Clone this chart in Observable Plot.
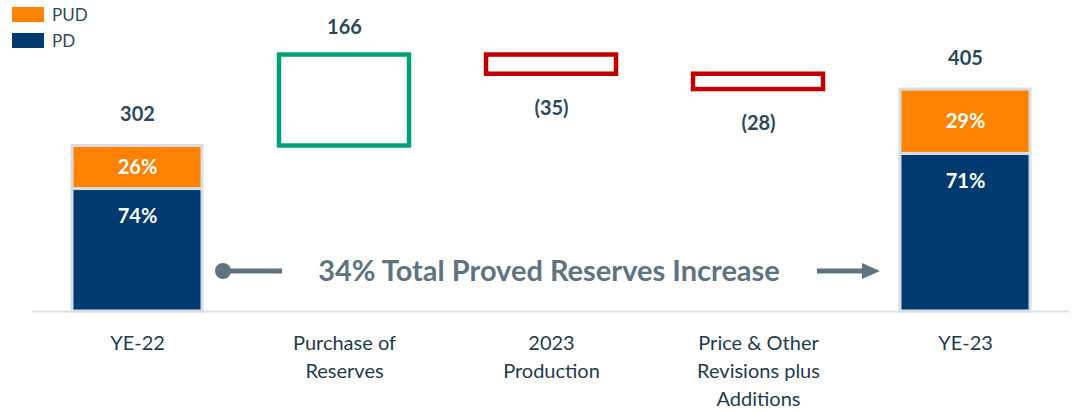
<!DOCTYPE html>
<html><head><meta charset="utf-8">
<script src="https://cdn.jsdelivr.net/npm/d3@7"></script>
<script src="https://cdn.jsdelivr.net/npm/@observablehq/plot@0.6"></script>
<style>
body{margin:0;background:#fff;font-family:Lato,"Open Sans",sans-serif}
#wrap{position:relative;width:1083px;height:412px}
.lg{position:absolute;left:12px;display:flex;align-items:center;font-size:17px;color:#2d4c5c;font-family:Lato,sans-serif}
.sw{width:32px;height:14.5px;margin-right:8px}
</style>
</head><body>
<div id="wrap"></div>
<script>
// ---- data ----
const categories = ["YE-22", "Purchase of Reserves", "2023 Production", "Price & Other Revisions plus Additions", "YE-23"];
const axisLabels = ["YE-22", "Purchase of\nReserves", "2023\nProduction", "Price & Other\nRevisions plus\nAdditions", "YE-23"];
const totalCats = ["YE-22", "YE-23"];
const totals = [302, 405];
const changeCats = ["Purchase of Reserves", "2023 Production", "Price & Other Revisions plus Additions"];
const changes = [166, -35, -28];
const changeLabels = ["166", "(35)", "(28)"];
const series = ["PUD", "PD"];
const seriesColors = ["#ff8200", "#003a70"];
const pdShare = [74, 71];
const pudShare = [26, 29];
const annotationText = "34% Total Proved Reserves Increase";
const annotationY = 73;

// ---- derived tables ----
const stack = [];
totalCats.forEach((c, i) => {
  const pd = totals[i] * pdShare[i] / 100;
  stack.push({cat: c, series: "PD", y1: 0, y2: pd, label: pdShare[i] + "%"});
  stack.push({cat: c, series: "PUD", y1: pd, y2: totals[i], label: pudShare[i] + "%"});
});
const totalRows = totalCats.map((c, i) => ({cat: c, value: totals[i], label: String(totals[i])}));
let running = totals[0];
const steps = changeCats.map((c, j) => {
  const start = running, end = running + changes[j];
  running = end;
  return {cat: c, lo: Math.min(start, end), hi: Math.max(start, end), up: changes[j] > 0, label: changeLabels[j]};
});
const ups = steps.filter(d => d.up), downs = steps.filter(d => !d.up);

const textColor = "#2b4a5c";

function annotationMark(index, scales) {
  const x = scales.x;
  const bw = typeof x.bandwidth === "function" ? x.bandwidth() : x.bandwidth;
  const y = scales.y(annotationY);
  const g = d3.create("svg:g").attr("fill", "#5f7480").attr("stroke", "#5f7480");
  const lx = x(categories[0]) + bw + 21;
  g.append("circle").attr("cx", lx).attr("cy", y).attr("r", 8).attr("stroke", "none");
  g.append("line").attr("x1", lx).attr("x2", x(categories[1]) + 3).attr("y1", y).attr("y2", y).attr("stroke-width", 5);
  const rx = x(categories[4]);
  g.append("line").attr("x1", rx - 83).attr("x2", rx - 36).attr("y1", y).attr("y2", y).attr("stroke-width", 5);
  g.append("path").attr("d", `M${rx - 38},${y - 8}L${rx - 20},${y}L${rx - 38},${y + 8}Z`).attr("stroke", "none");
  return g.node();
}

const chart = Plot.plot({
  width: 1083,
  height: 412,
  marginLeft: 32,
  marginRight: 14,
  marginTop: 0,
  marginBottom: 101,
  style: {fontFamily: "Lato, sans-serif", background: "white", overflow: "visible"},
  x: {domain: categories, paddingInner: 0.373, paddingOuter: 0.186, label: null},
  y: {domain: [0, 500], range: [311, 37], axis: null},
  color: {domain: series, range: seriesColors},
  marks: [
    Plot.ruleY([0], {stroke: "#dde2e6", strokeWidth: 2}),
    Plot.axisX({tickSize: 0, tickPadding: 18, fontSize: 20, fill: "#1f3b4e", lineHeight: 1.42,
      tickFormat: d => axisLabels[categories.indexOf(d)], label: null}),
    Plot.barY(stack, {x: "cat", y1: "y1", y2: "y2", fill: "series", stroke: "#d7dde2", strokeWidth: 3}),
    Plot.barY(ups, {x: "cat", y1: "lo", y2: "hi", fill: "white", stroke: "#00a07a", strokeWidth: 4.5}),
    Plot.barY(downs, {x: "cat", y1: "lo", y2: "hi", fill: "white", stroke: "#c00000", strokeWidth: 4.5}),
    Plot.text(totalRows, {x: "cat", y: "value", text: "label", dy: -31, fontSize: 20, fontWeight: 700, fill: textColor}),
    Plot.text(ups, {x: "cat", y: "hi", text: "label", dy: -27, fontSize: 20, fontWeight: 700, fill: textColor}),
    Plot.text(downs, {x: "cat", y: "lo", text: "label", dy: 34, fontSize: 20, fontWeight: 700, fill: textColor}),
    Plot.text(stack.filter(d => d.series === "PUD"), {x: "cat", y: d => (d.y1 + d.y2) / 2, text: "label", fontSize: 20, fontWeight: 700, fill: "white"}),
    Plot.text(stack.filter(d => d.series === "PD"), {x: "cat", y: "y2", text: "label", dy: 28, fontSize: 20, fontWeight: 700, fill: "white"}),
    Plot.text([annotationText], {y: () => annotationY, text: d => d, frameAnchor: "middle", dx: -2, fontSize: 29, fontWeight: 700, fill: "#5f7480"}),
    annotationMark
  ]
});

const wrap = document.getElementById("wrap");
wrap.appendChild(chart);
series.forEach((s, i) => {
  const item = document.createElement("div");
  item.className = "lg";
  item.style.top = (7 + i * 26) + "px";
  item.style.height = "14.5px";
  const sw = document.createElement("div");
  sw.className = "sw";
  sw.style.background = seriesColors[i];
  item.appendChild(sw);
  const t = document.createElement("span");
  t.textContent = s;
  item.appendChild(t);
  wrap.appendChild(item);
});
</script>
</body></html>
